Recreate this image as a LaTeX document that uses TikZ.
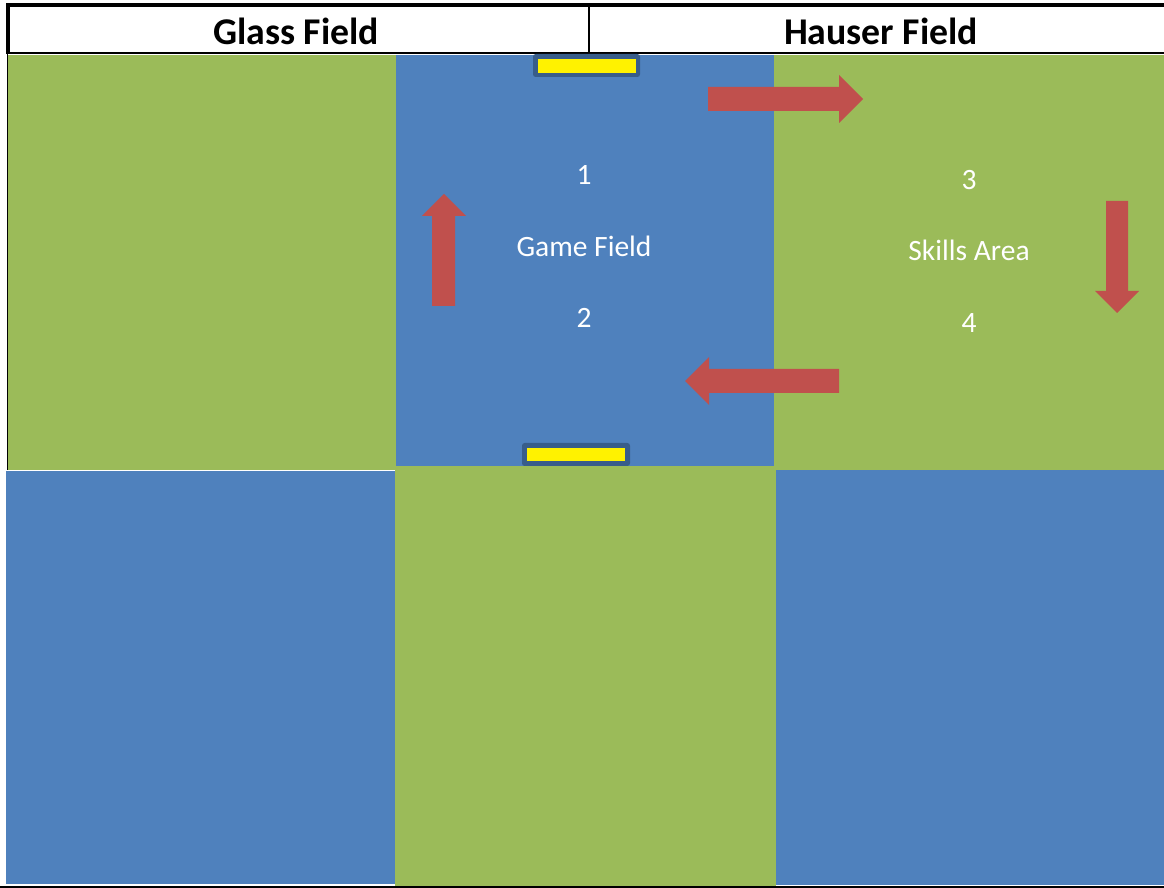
\documentclass[tikz,border=0pt]{standalone}
\usepackage{fontspec}
\setmainfont{Carlito}
\usepackage{xcolor}
\usepackage{tikz}
\definecolor{fieldblue}{HTML}{4F81BD}
\definecolor{fieldgreen}{HTML}{9BBB59}
\definecolor{arrowred}{HTML}{C0504D}
\definecolor{goalrim}{HTML}{385D8A}

\begin{document}
\begin{tikzpicture}[x=0.02cm, y=-0.02cm,
  title/.style={font=\fontsize{21.5}{24}\selectfont\bfseries},
  areatext/.style={text=white, font=\fontsize{16.8}{20}\selectfont},
  goalrimbox/.style={fill=goalrim, rounded corners=1.5pt},
  bigarrow/.style={fill=arrowred}]
\useasboundingbox (0,0) rectangle (1164,888);
\fill[white] (0,0) rectangle (1164,888);
% top row
\fill[fieldgreen] (8,55) rectangle (396,470);
\fill[fieldblue] (396,55) rectangle (774,466);
\fill[fieldgreen] (774,55) rectangle (1164,470);
% bottom row
\fill[fieldblue] (6,471) rectangle (395,884);
\fill[fieldgreen] (395,466) rectangle (776,886);
\fill[fieldblue] (776,470) rectangle (1164,885);
% header
\draw[line width=0.8pt] (8,53) -- (1164,53);
\draw[line width=0.8pt] (589,5) -- (589,53);
\draw[line width=1.9pt] (1164,5) -- (8,5) -- (8,54);
\draw[line width=0.9pt] (7.5,54) -- (7.5,470);
\draw[line width=1.7pt] (0,887) -- (1164,887);
\node[title] (glass) at (296,31) {Glass Field};
\node[title] (hauser) at (881,31) {Hauser Field};
% goals
\fill[goalrimbox] (533,54) rectangle (640,77);
\fill[yellow] (538,59) rectangle (636,73);
\fill[goalrimbox] (522,443) rectangle (630,466);
\fill[yellow] (527,448) rectangle (625,461);
% arrows
\fill[bigarrow] (708,87) -- (839,87) -- (839,75) -- (863,99) -- (839,123) -- (839,111) -- (708,111) -- cycle;
\fill[bigarrow] (1106,201) -- (1128,201) -- (1128,291) -- (1139,291) -- (1117,313) -- (1095,291) -- (1106,291) -- cycle;
\fill[bigarrow] (839,369) -- (709,369) -- (709,357) -- (685,381) -- (709,405) -- (709,393) -- (839,393) -- cycle;
\fill[bigarrow] (455,306) -- (432,306) -- (432,216) -- (422,216) -- (444,194) -- (466,216) -- (455,216) -- cycle;
% labels
\node[areatext] (one) at (584,175) {1};
\node[areatext] (game) at (584,246) {Game Field};
\node[areatext] (two) at (584,318) {2};
\node[areatext] (three) at (969,180) {3};
\node[areatext] (skills) at (969,250) {Skills Area};
\node[areatext] (four) at (969,323) {4};
\end{tikzpicture}
\end{document}
